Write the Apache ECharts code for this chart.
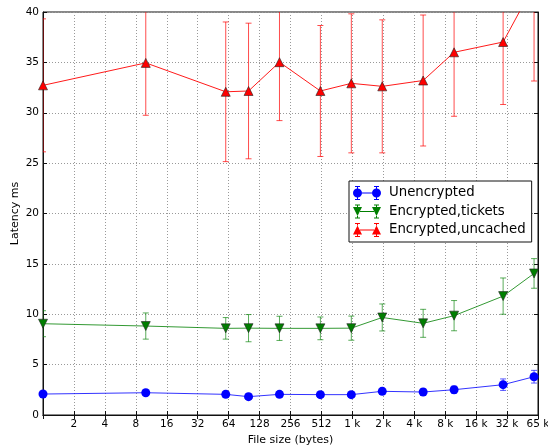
<!DOCTYPE html>
<html>
<head>
<meta charset="utf-8">
<script src="https://cdn.jsdelivr.net/npm/echarts@6/dist/echarts.min.js"></script>
<style>
  html, body { margin: 0; padding: 0; background: #fff; }
  #chart { width: 548px; height: 447px; }
</style>
</head>
<body>
<div id="chart"></div>
<script>
// File sizes (bytes) at which latency was measured
const fileSizes = [1, 10, 60, 100, 200, 500, 1000, 2000, 5000, 10000, 30000, 60000];

// Mean latency (ms) and error half-widths per series
const unencrypted      = [2.08, 2.21, 2.05, 1.82, 2.05, 2.02, 2.02, 2.35, 2.28, 2.51, 3.01, 3.80];
const unencryptedErr   = [0.25, 0.25, 0.30, 0.25, 0.25, 0.25, 0.25, 0.30, 0.30, 0.35, 0.57, 0.63];
const encTickets       = [9.06, 8.83, 8.60, 8.62, 8.60, 8.60, 8.62, 9.68, 9.10, 9.86, 11.80, 14.05];
const encTicketsErr    = [1.29, 1.30, 1.07, 1.35, 1.20, 1.13, 1.20, 1.34, 1.39, 1.50, 1.80, 1.47];
const encUncached      = [32.72, 34.95, 32.08, 32.16, 35.02, 32.16, 32.92, 32.62, 33.20, 36.00, 37.02, 42.70];
const encUncachedErr   = [6.60, 5.20, 6.93, 6.73, 5.80, 6.50, 6.90, 6.60, 6.50, 6.35, 6.20, 9.55];

// Labels for the power-of-two ticks 2^0 .. 2^16
const xTickLabels = ['', '2', '4', '8', '16', '32', '64', '128', '256', '512',
  '1 k', '2 k', '4 k', '8 k', '16 k', '32 k', '65 k'];
const yTicks = { min: 0, max: 40, step: 5 };

const seriesNames = ['Unencrypted', 'Encrypted,tickets', 'Encrypted,uncached'];
const colors = ['#0000ff', '#007f00', '#ff0000'];
const barColors = ['rgba(0,0,255,0.65)', 'rgba(0,127,0,0.65)', 'rgba(255,0,0,0.7)'];
const lineColors = ['rgba(0,0,255,0.8)', 'rgba(0,127,0,0.8)', 'rgba(255,0,0,0.9)'];

const FONT = 'DejaVu Sans';

function pairs(ys) { return fileSizes.map((x, i) => [x, ys[i]]); }
function ranges(ys, es) { return fileSizes.map((x, i) => [x, ys[i] - es[i], ys[i] + es[i]]); }

function errorBars(color) {
  return function (params, api) {
    const x = api.value(0);
    const lo = api.coord([x, api.value(1)]);
    const hi = api.coord([x, api.value(2)]);
    const cap = 3;
    const st = { stroke: color, lineWidth: 1 };
    return {
      type: 'group',
      children: [
        { type: 'line', shape: { x1: lo[0], y1: lo[1], x2: hi[0], y2: hi[1] }, style: st },
        { type: 'line', shape: { x1: lo[0] - cap, y1: lo[1], x2: lo[0] + cap, y2: lo[1] }, style: st },
        { type: 'line', shape: { x1: hi[0] - cap, y1: hi[1], x2: hi[0] + cap, y2: hi[1] }, style: st }
      ]
    };
  };
}

// Legend glyphs: two markers joined by a line, with error-bar caps (28 x 14 box)
const capsPath = 'M2,0 L7,0 L7,1 L2,1 Z M4,1 L5,1 L5,2.5 L4,2.5 Z M4,11.5 L5,11.5 L5,13 L4,13 Z M2,13 L7,13 L7,14 L2,14 Z ' +
  'M21,0 L26,0 L26,1 L21,1 Z M23,1 L24,1 L24,2.5 L23,2.5 Z M23,11.5 L24,11.5 L24,13 L23,13 Z M21,13 L26,13 L26,14 L21,14 Z ';
const legendIcons = [
  'path://' + capsPath +
    'M0,7 A4.5,4.5 0 1,0 9,7 A4.5,4.5 0 1,0 0,7 Z M19,7 A4.5,4.5 0 1,0 28,7 A4.5,4.5 0 1,0 19,7 Z M9,6.5 L19,6.5 L19,7.5 L9,7.5 Z',
  'path://' + capsPath +
    'M0,2.5 L9,2.5 L4.5,11.5 Z M19,2.5 L28,2.5 L23.5,11.5 Z M7,6.5 L21,6.5 L21,7.5 L7,7.5 Z',
  'path://' + capsPath +
    'M4.5,2.5 L9,11.5 L0,11.5 Z M23.5,2.5 L28,11.5 L19,11.5 Z M7,6.5 L21,6.5 L21,7.5 L7,7.5 Z'
];

const symbols = [
  { symbol: 'circle', symbolSize: 9, symbolRotate: 0 },
  { symbol: 'triangle', symbolSize: [9, 9], symbolRotate: 180 },
  { symbol: 'triangle', symbolSize: [9, 9], symbolRotate: 0 }
];
const means = [unencrypted, encTickets, encUncached];
const errs = [unencryptedErr, encTicketsErr, encUncachedErr];

const series = [];
for (let i = 0; i < 3; i++) {
  series.push({
    type: 'custom',
    name: seriesNames[i] + ' error',
    data: ranges(means[i], errs[i]),
    encode: { x: 0, y: [1, 2] },
    renderItem: errorBars(barColors[i]),
    clip: true,
    z: 2,
    silent: true
  });
}
for (let i = 0; i < 3; i++) {
  series.push({
    type: 'line',
    name: seriesNames[i],
    data: pairs(means[i]),
    symbol: symbols[i].symbol,
    symbolSize: symbols[i].symbolSize,
    symbolRotate: symbols[i].symbolRotate,
    showAllSymbol: true,
    clip: true,
    lineStyle: { color: lineColors[i], width: 1 },
    itemStyle: { color: colors[i], borderColor: i === 0 ? colors[i] : '#222', borderWidth: i === 0 ? 0 : 0.6 },
    emphasis: { disabled: true },
    z: 3,
    animation: false
  });
}

const xBase = {
  type: 'log',
  logBase: 2,
  min: 1,
  max: 65536,
  interval: 1
};

const option = {
  animation: false,
  backgroundColor: '#fff',
  grid: {
    left: 43, right: 10, top: 12, bottom: 32,
    outerBoundsMode: 'none',
    show: true, borderColor: '#111', borderWidth: 1
  },
  legend: {
    orient: 'vertical',
    left: 349,
    top: 181,
    padding: [5, 6, 5, 4],
    itemGap: 4.5,
    itemWidth: 28,
    itemHeight: 14,
    backgroundColor: '#fff',
    borderColor: '#111',
    borderWidth: 1,
    borderRadius: 0,
    itemStyle: { borderWidth: 0 },
    textStyle: { fontFamily: FONT, fontSize: 13.3, color: '#000', padding: [0, 0, 0, 3] },
    data: seriesNames.map((n, i) => ({ name: n, icon: legendIcons[i] })),
    selectedMode: false
  },
  xAxis: [
    Object.assign({}, xBase, {
      position: 'bottom',
      name: 'File size (bytes)',
      nameLocation: 'middle',
      nameGap: 18,
      nameTextStyle: { fontFamily: FONT, fontSize: 11, color: '#000' },
      axisLine: { show: true, lineStyle: { color: '#111', width: 1 } },
      axisTick: { show: true, inside: true, length: 4, lineStyle: { color: '#111' } },
      minorTick: { show: false },
      axisLabel: {
        margin: 4,
        fontFamily: FONT, fontSize: 10.5, color: '#000',
        formatter: v => xTickLabels[Math.round(Math.log2(v))] || ''
      },
      splitLine: { show: true, lineStyle: { color: '#999', type: [1, 2], width: 1 } }
    }),
    Object.assign({}, xBase, {
      position: 'top',
      axisLine: { show: true, lineStyle: { color: '#111', width: 1 } },
      axisTick: { show: true, inside: true, length: 4, lineStyle: { color: '#111' } },
      axisLabel: { show: false },
      splitLine: { show: false }
    })
  ],
  yAxis: [
    {
      type: 'value',
      position: 'left',
      min: yTicks.min, max: yTicks.max, interval: yTicks.step,
      name: 'Latency ms',
      nameLocation: 'middle',
      nameGap: 22,
      nameMoveOverlap: false,
      nameTextStyle: { fontFamily: FONT, fontSize: 11, color: '#000' },
      axisLine: { show: true, lineStyle: { color: '#111', width: 1 } },
      axisTick: { show: true, inside: true, length: 4, lineStyle: { color: '#111' } },
      axisLabel: { margin: 4, fontFamily: FONT, fontSize: 10.5, color: '#000' },
      splitLine: { show: true, lineStyle: { color: '#999', type: [1, 2], width: 1 } }
    },
    {
      type: 'value',
      position: 'right',
      min: yTicks.min, max: yTicks.max, interval: yTicks.step,
      axisLine: { show: true, lineStyle: { color: '#111', width: 1 } },
      axisTick: { show: true, inside: true, length: 4, lineStyle: { color: '#111' } },
      axisLabel: { show: false },
      splitLine: { show: false }
    }
  ],
  series: series
};

const chart = echarts.init(document.getElementById('chart'), null, { renderer: 'canvas' });
chart.setOption(option);
</script>
</body>
</html>
